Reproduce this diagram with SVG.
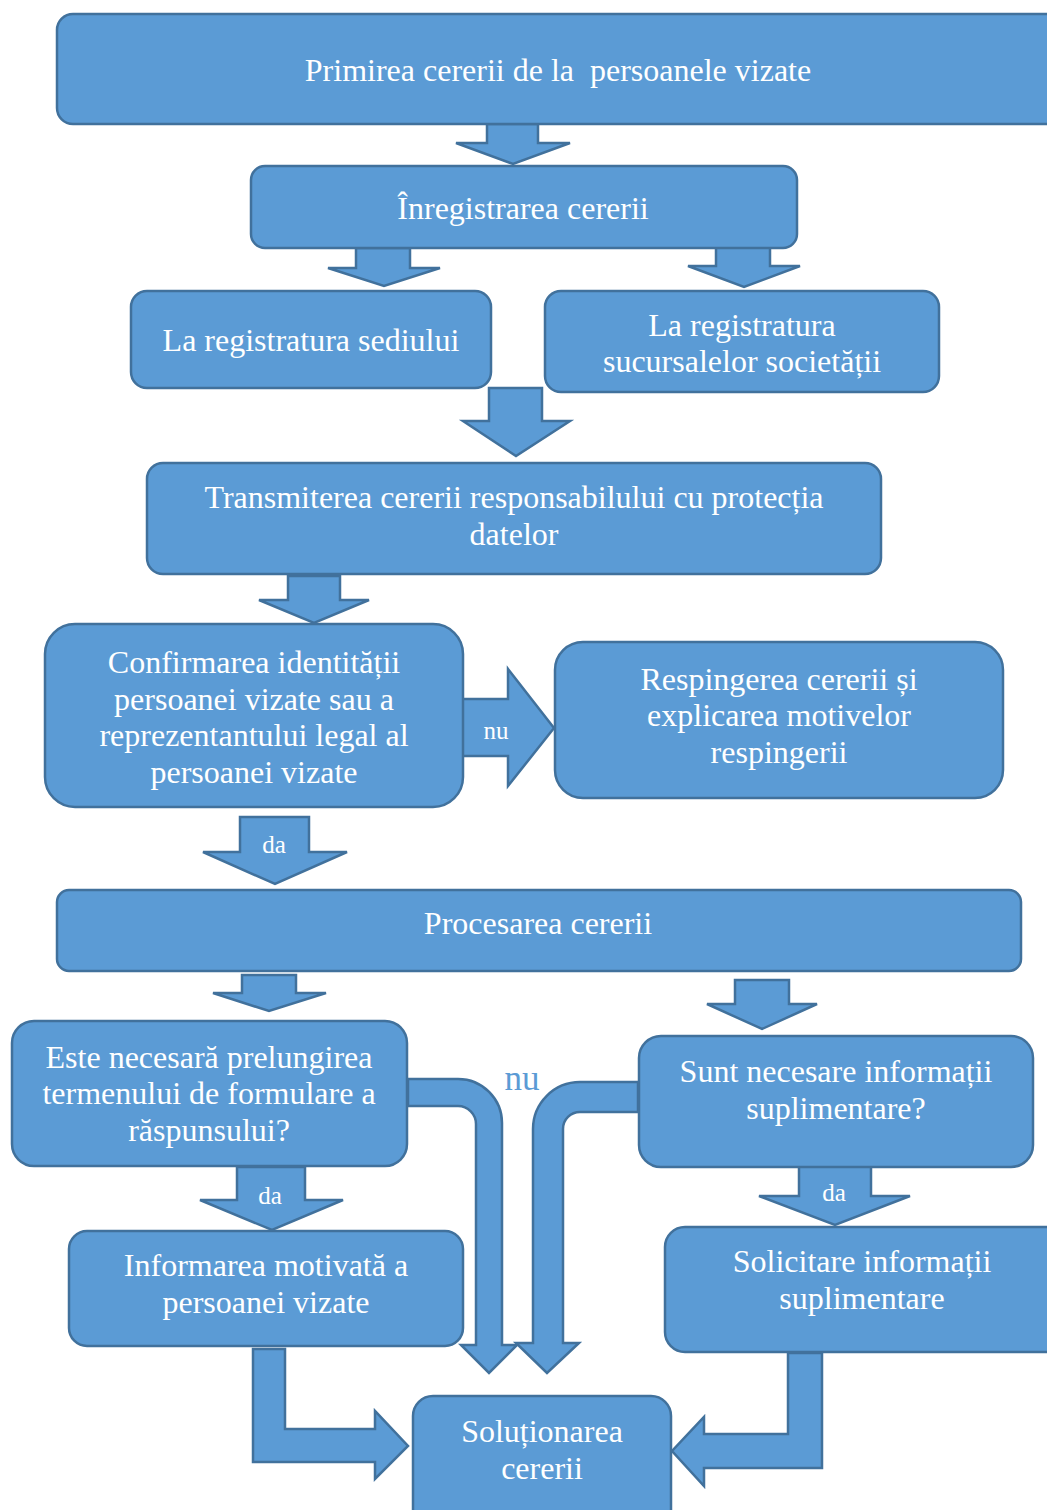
<svg xmlns="http://www.w3.org/2000/svg" width="1047" height="1510" viewBox="0 0 1047 1510">
<style>
.n{fill:#5B9BD5;stroke:#41719C;stroke-width:2.5}
.a{fill:#5B9BD5;stroke:#41719C;stroke-width:2.5;stroke-linejoin:miter}
text{font-family:"Liberation Serif","Times New Roman",serif;fill:#fff;text-anchor:middle;white-space:pre}
.t{font-size:32px}
.s{font-size:25px}
.b{font-size:35px;fill:#5B9BD5}
</style>
<rect width="1047" height="1510" fill="#fff"/>
<g id="connectors">
<path class="a" d="M487,124 H538 V143 H570 L513,164 L456,143 H487 Z"/>
<path class="a" d="M356,248 H410 V268 H440 L384,286 L328,268 H356 Z"/>
<path class="a" d="M716,246 H770 V266 H800 L744,287 L688,266 H716 Z"/>
<path class="a" d="M489,388 H542 V421 H570 L516,456 L463,421 H489 Z"/>
<path class="a" d="M288,576 H340 V600 H369 L314,623 L259,600 H288 Z"/>
<path class="a" d="M462,699 H508 V669 L554,728 L508,786 V756 H462 Z"/>
<text class="s" x="496" y="739">nu</text>
<path class="a" d="M240,817 H309 V852 H347 L275,884 L203,852 H240 Z"/>
<text class="s" x="274" y="853">da</text>
<path class="a" d="M242,975 H296 V993 H326 L269,1011 L213,993 H242 Z"/>
<path class="a" d="M735,980 H789 V1004 H817 L762,1029 L707,1004 H735 Z"/>
<path class="a" d="M408,1079 H458 A44,44 0 0 1 502,1123 V1345 H517 L489,1373 L461,1345 H476 V1124 A18,18 0 0 0 458,1106 H408 Z"/>
<path class="a" d="M638,1082 H580 A47,47 0 0 0 533,1129 V1343 H516 L547,1373 L579,1343 H563 V1129 A17,17 0 0 1 580,1112 H638 Z"/>
<text class="b" x="522" y="1090">nu</text>
<path class="a" d="M237,1167 H305 V1200 H343 L272,1230 L200,1200 H237 Z"/>
<text class="s" x="270" y="1204">da</text>
<path class="a" d="M799,1166 H871 V1196 H910 L835,1225 L759,1196 H799 Z"/>
<text class="s" x="834" y="1201">da</text>
<path class="a" d="M253,1349 H285 V1429 H375 V1411 L408,1446 L375,1479 V1462 H253 Z"/>
<path class="a" d="M788,1353 H822 V1468 H704 V1486 L672,1451 L704,1417 V1434 H788 Z"/>
</g>
<g id="n1"><rect class="n" x="57" y="14" width="1010" height="110" rx="16"/><text class="t" x="558" y="81">Primirea cererii de la  persoanele vizate</text></g>
<g id="n2"><rect class="n" x="251" y="166" width="546" height="82" rx="14"/><text class="t" x="523" y="219">Înregistrarea cererii</text></g>
<g id="n3"><rect class="n" x="131" y="291" width="360" height="97" rx="16"/><text class="t" x="311" y="351">La registratura sediului</text></g>
<g id="n4"><rect class="n" x="545" y="291" width="394" height="101" rx="16"/><text class="t" x="742" y="336">La registratura</text><text class="t" x="742" y="372">sucursalelor societății</text></g>
<g id="n5"><rect class="n" x="147" y="463" width="734" height="111" rx="16"/><text class="t" x="514" y="508">Transmiterea cererii responsabilului cu protecția</text><text class="t" x="514" y="545">datelor</text></g>
<g id="n6"><rect class="n" x="45" y="624" width="418" height="183" rx="30"/><text class="t" x="254" y="673">Confirmarea identității</text><text class="t" x="254" y="710">persoanei vizate sau a</text><text class="t" x="254" y="746">reprezentantului legal al</text><text class="t" x="254" y="783">persoanei vizate</text></g>
<g id="n7"><rect class="n" x="555" y="642" width="448" height="156" rx="28"/><text class="t" x="779" y="690">Respingerea cererii și</text><text class="t" x="779" y="726">explicarea motivelor</text><text class="t" x="779" y="763">respingerii</text></g>
<g id="n8"><rect class="n" x="57" y="890" width="964" height="81" rx="12"/><text class="t" x="538" y="934">Procesarea cererii</text></g>
<g id="n9"><rect class="n" x="12" y="1021" width="395" height="145" rx="22"/><text class="t" x="209" y="1068">Este necesară prelungirea</text><text class="t" x="209" y="1104">termenului de formulare a</text><text class="t" x="209" y="1141">răspunsului?</text></g>
<g id="n10"><rect class="n" x="639" y="1036" width="394" height="131" rx="22"/><text class="t" x="836" y="1082">Sunt necesare informații</text><text class="t" x="836" y="1119">suplimentare?</text></g>
<g id="n11"><rect class="n" x="69" y="1231" width="394" height="115" rx="18"/><text class="t" x="266" y="1276">Informarea motivată a</text><text class="t" x="266" y="1313">persoanei vizate</text></g>
<g id="n12"><rect class="n" x="665" y="1227" width="402" height="125" rx="20"/><text class="t" x="862" y="1272">Solicitare informații</text><text class="t" x="862" y="1309">suplimentare</text></g>
<g id="n13"><rect class="n" x="413" y="1396" width="258" height="134" rx="20"/><text class="t" x="542" y="1442">Soluționarea</text><text class="t" x="542" y="1479">cererii</text></g>
</svg>
